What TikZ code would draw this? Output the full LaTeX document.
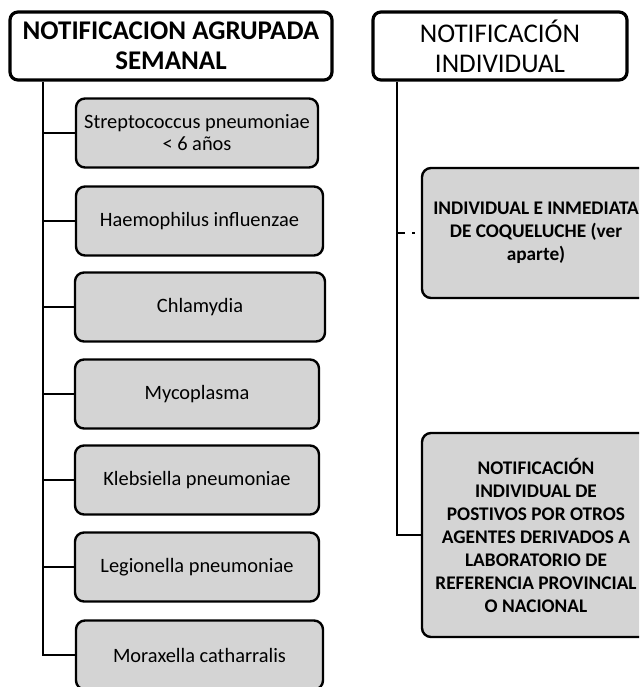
\documentclass[tikz,border=0pt]{standalone}
\usepackage{fontspec}
\setmainfont{Carlito}
\usepackage{xcolor}
\usepackage{tikz}
\usetikzlibrary{positioning,calc}

\definecolor{boxgray}{RGB}{212,212,212}

\begin{document}
\begin{tikzpicture}[
    x=1pt, y=-1pt,
    header/.style={draw,line width=3.2pt,rounded corners=8pt,fill=white,
                   minimum width=322pt,minimum height=68pt,align=center,
                   inner sep=2pt,font=\fontsize{27}{30}\selectfont},
    agent/.style={draw,line width=2.4pt,rounded corners=9pt,fill=boxgray,
                  minimum width=244pt,minimum height=69pt,align=center,
                  inner sep=2pt,font=\fontsize{20.4}{22}\selectfont},
    report/.style={agent,minimum width=228pt,font=\fontsize{19.3}{23}\selectfont\bfseries},
    link/.style={line width=2.2pt},
  ]
  \clip (0,0) rectangle (639,687);

  % --- headers ---
  \node[header,font=\fontsize{27}{30}\selectfont\bfseries] (grp) at (171,46)
    {NOTIFICACION AGRUPADA\\SEMANAL};
  \node[header,minimum width=254pt] (ind) at (500,46)
    {NOTIFICACIÓN\\INDIVIDUAL};

  % --- weekly grouped agents ---
  \node[agent,minimum width=242pt] (a1) at (197,133) {Streptococcus pneumoniae\\< 6 años};
  \node[agent,minimum width=247pt] (a2) at (199.5,221) {Haemophilus influenzae};
  \node[agent,minimum width=250pt] (a3) at (200,307) {Chlamydia};
  \node[agent] (a4) at (197,394) {Mycoplasma};
  \node[agent] (a5) at (197,480) {Klebsiella pneumoniae};
  \node[agent] (a6) at (197,567) {Legionella pneumoniae};
  \node[agent,minimum width=247pt] (a7) at (199.5,655) {Moraxella catharralis};

  % --- individual reports ---
  \node[report,minimum height=130pt] (r1) at (536,233)
    {INDIVIDUAL E INMEDIATA\\DE COQUELUCHE (ver\\aparte)};
  \node[report,minimum height=204pt] (r2) at (536,535)
    {NOTIFICACIÓN\\INDIVIDUAL DE\\POSTIVOS POR OTROS\\AGENTES DERIVADOS A\\LABORATORIO DE\\REFERENCIA PROVINCIAL\\O NACIONAL};

  % --- trunks ---
  \coordinate (gl) at (43,0);
  \coordinate (il) at (397,0);
  \draw[link] (grp.south -| gl) |- (a7.west);
  \foreach \k in {1,...,6}
    \draw[link] (a\k.west -| gl) -- (a\k.west);

  \draw[link] (ind.south -| il) |- (r2.west);
  \draw[link,dash pattern=on 8pt off 7pt on 3pt off 20pt] (r1.west -| il) -- (r1.west);

\end{tikzpicture}
\end{document}
